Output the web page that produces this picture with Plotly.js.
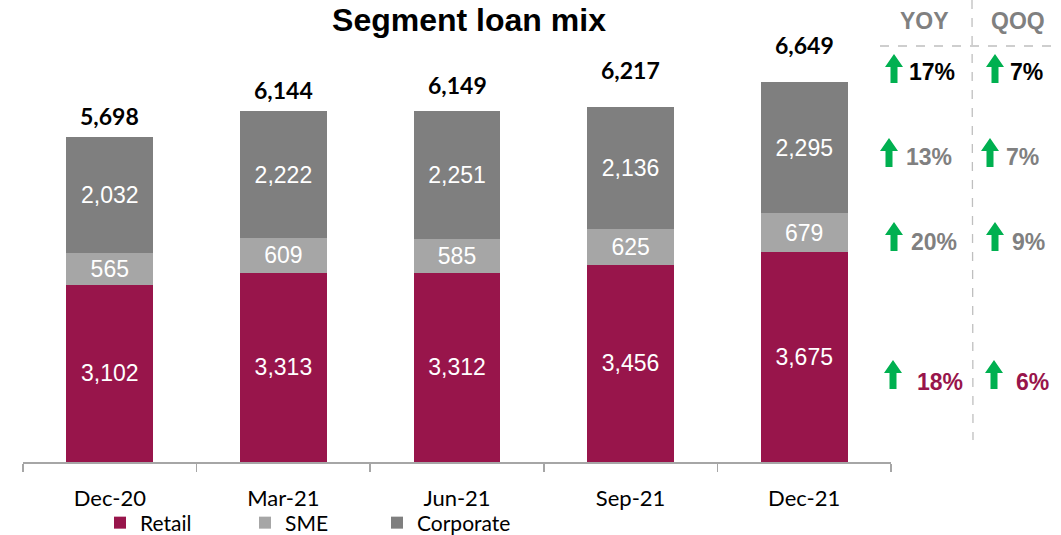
<!DOCTYPE html>
<html>
<head>
<meta charset="utf-8">
<script src="https://cdn.plot.ly/plotly-3.0.1.min.js"></script>
<style>html,body{margin:0;padding:0;background:#fff;}#chart{width:1061px;height:535px;}</style>
</head>
<body>
<div id="chart"></div>
<script>
// ---- data ----
var categories = ['Dec-20', 'Mar-21', 'Jun-21', 'Sep-21', 'Dec-21'];
var retail = [3102, 3313, 3312, 3456, 3675];
var sme = [565, 609, 585, 625, 679];
var corporate = [2032, 2222, 2251, 2136, 2295];
var totals = [5698, 6144, 6149, 6217, 6649];
var growthHeaders = ['YOY', 'QOQ'];
var yoyGrowth = ['17%', '13%', '20%', '18%'];   // Total, Corporate, SME, Retail
var qoqGrowth = ['7%', '7%', '9%', '6%'];

// ---- style ----
var W = 1061, H = 535, PB = 462; // plot bottom pixel
var cRetail = '#98154B', cSme = '#A6A6A6', cCorp = '#7F7F7F';
var totalShift = [5, 5, 10, 21, 21];
function px(x) { return x / W; }
function py(y) { return (PB - y) / PB; }

var segFont = {family: 'Liberation Sans, Arial, sans-serif', size: 23, color: '#ffffff'};

function barTrace(name, vals, color, legendId) {
  return {
    type: 'bar', name: name, x: categories, y: vals,
    marker: {color: color, line: {width: 0}},
    text: vals.map(function (v) { return v.toLocaleString('en-US'); }),
    textposition: 'inside', insidetextanchor: 'middle', textangle: 0,
    insidetextfont: segFont, hoverinfo: 'skip', legend: legendId
  };
}

var traces = [
  barTrace('Retail', retail, cRetail, 'legend'),
  barTrace('SME', sme, cSme, 'legend2'),
  barTrace('Corporate', corporate, cCorp, 'legend3')
];

var annotations = [];
totals.forEach(function (t, i) {
  annotations.push({
    x: categories[i], y: t, xref: 'x', yref: 'y', text: '<b>' + t.toLocaleString('en-US') + '</b>',
    showarrow: false, yanchor: 'bottom', yshift: totalShift[i],
    font: {family: 'Lato, sans-serif', size: 23, color: '#000000'}
  });
});

// right panel
var headerX = [924, 1018];
growthHeaders.forEach(function (h, i) {
  annotations.push({
    x: px(headerX[i]), y: py(21), xref: 'paper', yref: 'paper', text: '<b>' + h + '</b>',
    showarrow: false, xanchor: 'center', yanchor: 'middle',
    font: {family: 'Liberation Sans, Arial, sans-serif', size: 23, color: '#808080'}
  });
});

var rowY = [72, 157, 242, 382];
var rowColor = ['#000000', '#808080', '#808080', cRetail];
var yoyTextX = [907, 904, 909, 915];
var qoqTextX = [1008, 1004, 1010, 1014];
var yoyArrowX = [894, 889, 894, 893];
var qoqArrowX = [995, 990, 995, 994];
var arrowTop = [54, 138, 222, 360];

var shapes = [];
function arrowPath(cx, top) {
  var h = 29, hh = 13, hw = 9, sw = 3.5;
  var pts = [[cx, top], [cx + hw, top + hh], [cx + sw, top + hh], [cx + sw, top + h],
             [cx - sw, top + h], [cx - sw, top + hh], [cx - hw, top + hh]];
  return 'M' + pts.map(function (p) { return px(p[0]) + ',' + py(p[1]); }).join('L') + 'Z';
}
for (var r = 0; r < rowY.length; r++) {
  annotations.push({
    x: px(yoyTextX[r]), y: py(rowY[r]), xref: 'paper', yref: 'paper', text: '<b>' + yoyGrowth[r] + '</b>',
    showarrow: false, xanchor: 'left', yanchor: 'middle',
    font: {family: 'Liberation Sans, Arial, sans-serif', size: 23, color: rowColor[r]}
  });
  annotations.push({
    x: px(qoqTextX[r]), y: py(rowY[r]), xref: 'paper', yref: 'paper', text: '<b>' + qoqGrowth[r] + '</b>',
    showarrow: false, xanchor: 'left', yanchor: 'middle',
    font: {family: 'Liberation Sans, Arial, sans-serif', size: 23, color: rowColor[r]}
  });
  shapes.push({type: 'path', xref: 'paper', yref: 'paper', path: arrowPath(yoyArrowX[r], arrowTop[r]),
    fillcolor: '#00B050', line: {width: 0}});
  shapes.push({type: 'path', xref: 'paper', yref: 'paper', path: arrowPath(qoqArrowX[r], arrowTop[r]),
    fillcolor: '#00B050', line: {width: 0}});
}
// dashed separators
shapes.push({type: 'line', xref: 'paper', yref: 'paper', x0: px(880), x1: px(1056), y0: py(46), y1: py(46),
  line: {color: '#BFBFBF', width: 1.3, dash: 'dash'}});
shapes.push({type: 'line', xref: 'paper', yref: 'paper', x0: px(972), x1: px(973), y0: py(0), y1: py(440),
  line: {color: '#BFBFBF', width: 1.3, dash: 'dash'}});

var legendFont = {family: 'Lato, sans-serif', size: 21, color: '#000000'};
function leg(x) {
  return {orientation: 'h', x: x / W, y: 1 - 523 / H, xref: 'container', yref: 'container',
    xanchor: 'left', yanchor: 'middle',
    font: legendFont, bgcolor: 'rgba(0,0,0,0)', borderwidth: 0, itemclick: false, itemdoubleclick: false};
}

var layout = {
  width: W, height: H,
  margin: {l: 0, r: 0, t: 0, b: H - PB, pad: 0},
  paper_bgcolor: '#ffffff', plot_bgcolor: '#ffffff',
  barmode: 'stack', bargap: 0.5,
  showlegend: true,
  title: {text: '<b>Segment loan mix</b>', x: px(469), xanchor: 'center', y: 1 - 20 / H, yanchor: 'middle',
    font: {family: 'Liberation Sans, Arial, sans-serif', size: 32, color: '#000000'}},
  xaxis: {
    type: 'category', domain: [px(23), px(891)], range: [-0.5, 4.5], automargin: false,
    showline: true, linecolor: '#A6A6A6', linewidth: 1.5,
    ticks: 'outside', tickson: 'boundaries', ticklen: 8, tickcolor: '#A6A6A6', tickwidth: 1.5,
    ticklabelstandoff: 16,
    showgrid: false, zeroline: false, fixedrange: true,
    tickfont: {family: 'Lato, sans-serif', size: 22, color: '#000000'}
  },
  yaxis: {range: [0, PB / 0.0571], visible: false, showgrid: false, zeroline: false, fixedrange: true, automargin: false},
  uniformtext: {mode: 'show', minsize: 23},
  legend: leg(100), legend2: leg(245), legend3: leg(377),
  annotations: annotations,
  shapes: shapes
};

Plotly.newPlot('chart', traces, layout, {displayModeBar: false, staticPlot: true});
</script>
</body>
</html>
